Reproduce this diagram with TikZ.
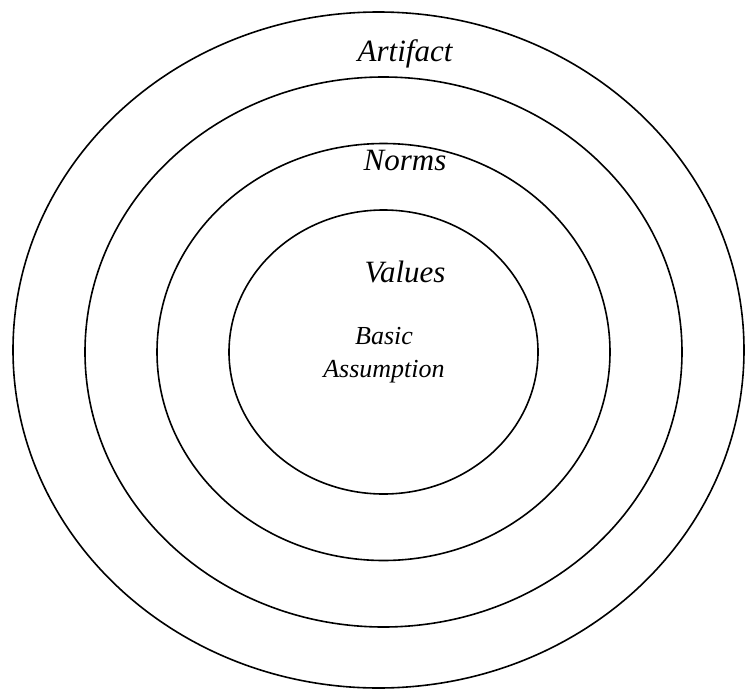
\documentclass[tikz,border=0pt]{standalone}
\usepackage{fontspec}
\setmainfont{Liberation Serif}
\tikzset{
  ring/.style={draw=black, line width=1.6pt},
  lbl/.style={anchor=base, inner sep=0pt, font=\itshape},
}
\begin{document}
\begin{tikzpicture}[x=1pt,y=-1pt]
\useasboundingbox (0,0) rectangle (745,691);
\draw[ring] (378.5,350) ellipse [x radius=365.5, y radius=338];
\draw[ring] (383.5,352) ellipse [x radius=298.5, y radius=275];
\draw[ring] (383.5,352) ellipse [x radius=226.5, y radius=208.5];
\draw[ring] (383.5,352) ellipse [x radius=154.5, y radius=142];
\node[lbl, font=\itshape\fontsize{31}{36}\selectfont] (artifact) at (405,61) {Artifact};
\node[lbl, font=\itshape\fontsize{31}{36}\selectfont] (norms) at (405,170) {Norms};
\node[lbl, font=\itshape\fontsize{31}{36}\selectfont] (values) at (405,282) {Values};
\node[lbl, font=\itshape\fontsize{26}{30}\selectfont] (basic) at (384,344) {Basic};
\node[lbl, font=\itshape\fontsize{26}{30}\selectfont] (assump) at (384,377) {Assumption};
\end{tikzpicture}
\end{document}
